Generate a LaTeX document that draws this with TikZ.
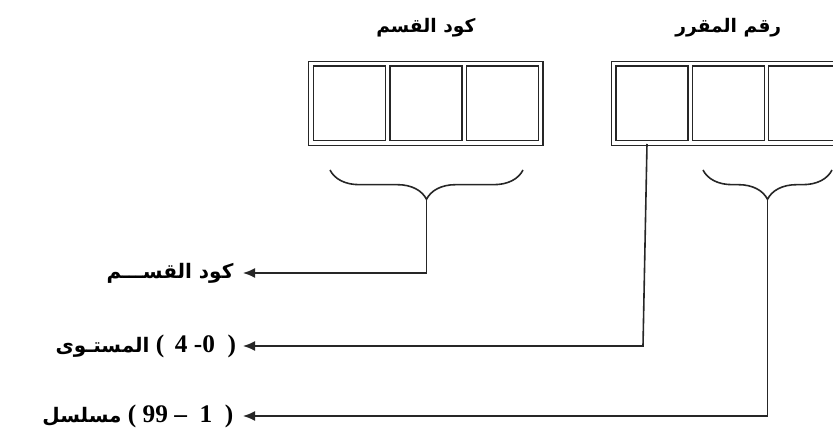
\documentclass[tikz,border=0pt]{standalone}
\usepackage{fontspec}
\setmainfont{Liberation Serif}
\newfontfamily\arabicfont[Script=Arabic]{DejaVu Sans}
\newcommand\arlbl{\arabicfont\bfseries\fontsize{15}{17}\selectfont}
\TeXXeTstate=1
\usetikzlibrary{positioning,fit,arrows.meta,decorations.pathreplacing}

\begin{document}
\begin{tikzpicture}[x=0.75pt,y=-0.75pt,node distance=2.25pt,
	cell/.style={draw=black!85,line width=1pt,inner sep=0pt,minimum width=54pt,minimum height=56pt},
	frame/.style={draw=black!85,line width=1pt,inner sep=3.1pt},
	ttl/.style={font=\arabicfont\bfseries\fontsize{14}{16}\selectfont},
	lbl/.style={font=\bfseries\fontsize{19}{21}\selectfont,anchor=east,inner xsep=7pt,inner ysep=1pt},
	conn/.style={draw=black!85,line width=1.2pt},
	arr/.style={conn,-{Latex[length=9pt,width=7.5pt]}},
	brc/.style={conn,decorate,decoration={brace,amplitude=22pt}}]
	\useasboundingbox (0,0) rectangle (833,434);
	\clip (0,0) rectangle (833,434);

	% department code
	\node[cell] (d1) at (349.5,103.5) {};
	\node[cell] (d2) [right=of d1] {};
	\node[cell] (d3) [right=of d2] {};
	\node[frame,fit=(d1)(d3)] (dfr) {};
	\node[ttl] (tdept) [above=14pt of dfr] {\beginR كود القسم\endR};

	% course number
	\node[cell] (n1) at (652,103.5) {};
	\node[cell] (n2) [right=of n1] {};
	\node[cell] (n3) [right=of n2] {};
	\node[frame,fit=(n1)(n3)] (nfr) {};
	\node[ttl] (tnum) [above=14pt of nfr] {\beginR رقم المقرر\endR};

	% braces
	\draw[brc] (523,170) -- (330,170);
	\draw[brc] (832,170) -- (703,170);
	\coordinate (bd) at (426.5,200);
	\coordinate (bs) at (767.5,200);
	\coordinate (lv) at (647,144);
	\coordinate (lvk) at (643,346);

	% labels
	\node[lbl] (dept) at (243,273) {\hbox{\arlbl\beginR كود القســـم\endR}};
	\node[lbl,inner xsep=5pt] (lvl) at (243,346) {\hbox{\arlbl\beginR المستـوى\endR}\ \hbox{(\ \,4\ -0\ \ )}};
	\node[lbl] (ser) at (243,416) {\hbox{\arlbl\beginR مسلسل\endR}\ \hbox{(\ 99\ -- \ 1\ \ )}};

	\draw[arr] (bd) |- (dept);
	\draw[arr] (lv) -- (lvk) -- (lvl);
	\draw[arr] (bs) |- (ser);
\end{tikzpicture}
\end{document}
